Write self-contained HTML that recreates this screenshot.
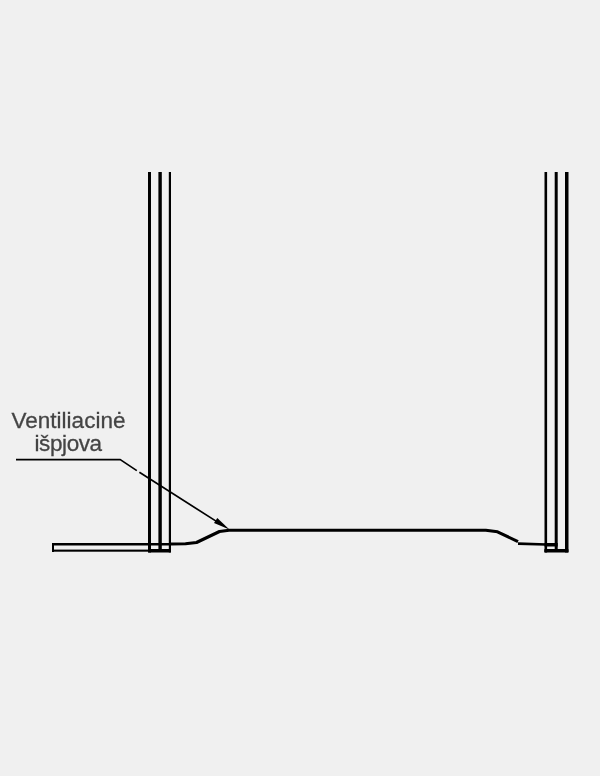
<!DOCTYPE html>
<html><head><meta charset="utf-8">
<style>
html,body{margin:0;padding:0;background:#f0f0f0;width:600px;height:776px;overflow:hidden}
svg{position:absolute;left:0;top:0}
.t{will-change:transform}
</style></head>
<body>
<svg width="600" height="776" viewBox="0 0 600 776" xmlns="http://www.w3.org/2000/svg">
<rect width="600" height="776" fill="#f0f0f0"/>
<g fill="#000">
<!-- left wall -->
<rect x="148" y="172" width="3" height="380.5"/>
<rect x="158.4" y="172" width="3.4" height="380"/>
<rect x="168.8" y="172" width="2.2" height="380.5"/>
<rect x="148" y="549" width="23" height="3.5" rx="0.8"/>
<!-- strip -->
<rect x="52" y="543" width="2" height="9"/>
<rect x="52" y="543" width="119" height="2.5"/>
<rect x="52" y="549.6" width="97" height="2.1"/>
<!-- right wall -->
<rect x="544.5" y="172" width="2.6" height="380.5"/>
<rect x="554.7" y="172" width="3" height="380"/>
<rect x="565" y="172" width="3.5" height="380.5"/>
<rect x="544.3" y="549" width="24.2" height="3.5" rx="0.8"/>
<rect x="544.5" y="543" width="13.2" height="3.5"/>
</g>
<g fill="none" stroke="#000" stroke-linejoin="round">
<path d="M171 544 L185.5 543.8 L196.5 542.5 L219.5 531.5 L229 530.3 L485.8 530.2 L497.5 531.8 L518 541.7" stroke-width="3.1"/>
<path d="M518 543.6 L546 544.5" stroke-width="2.6"/>
<path d="M16 459.6 L120.3 459.6 L136.8 470.6 M139.4 472.3 L218 522.4" stroke-width="1.7"/>
</g>
<path d="M229.4 529.4 L214 523 L217.3 518 Z" fill="#000"/>
<g class="t" font-family="Liberation Sans, sans-serif" font-size="22.5" fill="#444" stroke="#444" stroke-width="0.3" text-anchor="middle">
<text x="68.5" y="428">Ventiliacinė</text>
<text x="68.1" y="451.4" letter-spacing="-0.4">išpjova</text>
</g>
</svg>
</body></html>
